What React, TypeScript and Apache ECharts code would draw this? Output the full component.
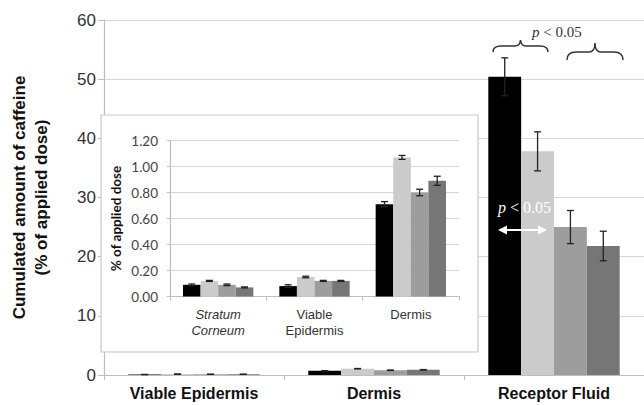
import React, { useEffect, useRef } from "react";
import * as echarts from "echarts";

const mainCategories = ["Viable Epidermis", "Dermis", "Receptor Fluid"];
const insetCategories = ["{it|Stratum}\n{it|Corneum}", "Viable\nEpidermis", "Dermis"];
const seriesNames = ["Formulation 1", "Formulation 2", "Formulation 3", "Formulation 4"];
const seriesColors = ["#000000", "#cbcbcb", "#9d9d9d", "#767676"];

// main chart values (% of applied dose) per series, across mainCategories
const mainValues = [
  [0.08, 0.7, 50.4],
  [0.15, 1.07, 37.8],
  [0.12, 0.8, 25.0],
  [0.12, 0.88, 21.8],
];
const mainErrors = [
  [0.01, 0.03, 3.2],
  [0.01, 0.03, 3.3],
  [0.01, 0.03, 2.8],
  [0.01, 0.04, 2.5],
];
// inset values per series, across insetCategories
const insetValues = [
  [0.09, 0.08, 0.71],
  [0.12, 0.15, 1.07],
  [0.09, 0.12, 0.8],
  [0.07, 0.12, 0.89],
];
const insetErrors = [
  [0.006, 0.01, 0.02],
  [0.004, 0.006, 0.015],
  [0.006, 0.004, 0.025],
  [0.004, 0.004, 0.035],
];
const mainTicks = { min: 0, max: 60, interval: 10 };
const insetTicks = { min: 0, max: 1.2, interval: 0.2 };

const GAP = 0.27;

function errorRenderer(capHalf: number) {
  return (params: any, api: any) => {
    const cat = api.value(0);
    const v = api.value(1);
    const e = api.value(2);
    const s = api.value(3);
    const bandW = api.size([1, 0])[0];
    const barW = (bandW * (1 - GAP)) / 4;
    const cx = api.coord([cat, v])[0] + (s - 1.5) * barW;
    const top = api.coord([cat, v + e])[1];
    const bot = api.coord([cat, v - e])[1];
    const style = { stroke: "#222", lineWidth: 1.3 };
    return {
      type: "group",
      children: [
        { type: "line", shape: { x1: cx, y1: top, x2: cx, y2: bot }, style },
        { type: "line", shape: { x1: cx - capHalf, y1: top, x2: cx + capHalf, y2: top }, style },
        { type: "line", shape: { x1: cx - capHalf, y1: bot, x2: cx + capHalf, y2: bot }, style },
      ],
    };
  };
}

echarts.graphic.registerShape(
  "brace1",
  echarts.graphic.extendPath(
    "M0,12 Q0,6 8,6 L22,6 Q27,6 27.5,0 Q28,6 33,6 L47,6 Q55,6 55,12",
    {}
  )
);
echarts.graphic.registerShape(
  "brace2",
  echarts.graphic.extendPath(
    "M0,17 Q0,9 9,9 L22,9 Q28,9 28,0 Q28,9 34,9 L47,9 Q56,9 56,17",
    {}
  )
);

export default function App() {
  const ref = useRef<HTMLDivElement>(null);
  useEffect(() => {
    if (!ref.current) return;
    const chart = echarts.init(ref.current, undefined, { renderer: "svg" });
    const series: any[] = [];
    seriesNames.forEach((name, i) => {
      series.push({
        type: "bar",
        name,
        xAxisIndex: 0,
        yAxisIndex: 0,
        data: mainValues[i],
        barGap: "0%",
        barCategoryGap: "27%",
        itemStyle: { color: seriesColors[i] },
        z: 2,
      });
    });
    seriesNames.forEach((name, i) => {
      series.push({
        type: "bar",
        name: name + " (inset)",
        xAxisIndex: 1,
        yAxisIndex: 1,
        data: insetValues[i],
        barGap: "0%",
        barCategoryGap: "27%",
        itemStyle: { color: seriesColors[i] },
        z: 4,
      });
    });
    const mainErr: any[] = [];
    const insetErr: any[] = [];
    seriesNames.forEach((_, s) => {
      mainCategories.forEach((_, c) => mainErr.push([c, mainValues[s][c], mainErrors[s][c], s]));
      insetCategories.forEach((_, c) => insetErr.push([c, insetValues[s][c], insetErrors[s][c], s]));
    });
    series.push({
      type: "custom",
      xAxisIndex: 0,
      yAxisIndex: 0,
      data: mainErr,
      encode: { x: 0, y: 1 },
      renderItem: errorRenderer(3.5),
      z: 5,
    });
    series.push({
      type: "custom",
      xAxisIndex: 1,
      yAxisIndex: 1,
      data: insetErr,
      encode: { x: 0, y: 1 },
      renderItem: errorRenderer(3.5),
      z: 6,
    });

    const option: any = {
      animation: false,
      textStyle: { fontFamily: "Liberation Sans" },
      grid: [
        { left: 95, top: 20, right: -6, bottom: 30 },
        { left: 170, top: 140.5, right: 185, bottom: 108.5 },
      ],
      xAxis: [
        {
          type: "category",
          gridIndex: 0,
          data: mainCategories,
          axisLine: { lineStyle: { color: "#bdbdbd", width: 1.2 } },
          axisTick: { show: true, length: 5, lineStyle: { color: "#bdbdbd" } },
          axisLabel: { color: "#111", fontSize: 16, fontWeight: "bold", margin: 10 },
          z: 0,
        },
        {
          type: "category",
          gridIndex: 1,
          data: insetCategories,
          axisLine: { lineStyle: { color: "#bdbdbd", width: 1.2 } },
          axisTick: { show: true, length: 4, lineStyle: { color: "#bdbdbd" } },
          axisLabel: {
            color: "#333",
            fontSize: 13,
            margin: 10,
            lineHeight: 16,
            rich: { it: { fontStyle: "italic", fontSize: 13, color: "#333", lineHeight: 16 } },
          },
          z: 3,
        },
      ],
      yAxis: [
        {
          type: "value",
          gridIndex: 0,
          ...mainTicks,
          name: "Cumulated amount of caffeine\n(% of applied dose)",
          nameLocation: "middle",
          nameGap: 52,
          nameTextStyle: { fontSize: 17, fontWeight: "bold", color: "#111", lineHeight: 22 },
          axisLine: { show: true, lineStyle: { color: "#bdbdbd", width: 1.2 } },
          axisTick: { show: true, length: 6, lineStyle: { color: "#bdbdbd" } },
          axisLabel: { color: "#333", fontSize: 17, margin: 8 },
          splitLine: { lineStyle: { color: "#d6d6d6", width: 1.2 } },
          z: 0,
        },
        {
          type: "value",
          gridIndex: 1,
          ...insetTicks,
          name: "% of applied dose",
          nameLocation: "middle",
          nameGap: 47,
          nameTextStyle: { fontSize: 13.5, fontWeight: "bold", color: "#111", fontFamily: "Lato" },
          axisLine: { show: true, lineStyle: { color: "#bdbdbd", width: 1.2 } },
          axisTick: { show: true, length: 3, lineStyle: { color: "#bdbdbd" } },
          axisLabel: {
            color: "#444",
            fontSize: 13.5,
            fontFamily: "Lato",
            margin: 12,
            formatter: (v: number) => v.toFixed(2),
          },
          splitLine: { lineStyle: { color: "#d6d6d6", width: 1.2 } },
          z: 3,
        },
      ],
      graphic: [
        {
          type: "rect",
          z: 1,
          shape: { x: 101, y: 115, width: 377, height: 237 },
          style: { fill: "#ffffff", stroke: "#c8c8c8", lineWidth: 1.2 },
        },
        {
          type: "brace1",
          z: 10,
          x: 493,
          y: 40,
          style: { fill: "none", stroke: "#333", lineWidth: 1.5 },
        },
        {
          type: "brace2",
          z: 10,
          x: 567,
          y: 43,
          style: { fill: "none", stroke: "#333", lineWidth: 1.5 },
        },
        {
          type: "text",
          z: 10,
          x: 532,
          y: 24,
          style: {
            text: "{i|p} < 0.05",
            font: "15px 'Liberation Serif'",
            fill: "#333",
            rich: { i: { fontStyle: "italic", fontSize: 15, fontFamily: "Liberation Serif", fill: "#333" } },
          },
        },
        {
          type: "text",
          z: 10,
          x: 498,
          y: 199,
          style: {
            text: "{i|p} < 0.05",
            font: "16px 'Liberation Serif'",
            fill: "#ffffff",
            rich: { i: { fontStyle: "italic", fontSize: 16, fontFamily: "Liberation Serif", fill: "#ffffff" } },
          },
        },
        {
          type: "line",
          z: 10,
          shape: { x1: 504, y1: 230, x2: 541, y2: 230 },
          style: { stroke: "#ffffff", lineWidth: 2 },
        },
        {
          type: "polygon",
          z: 10,
          shape: { points: [[498, 230], [507, 225.5], [507, 234.5]] },
          style: { fill: "#ffffff" },
        },
        {
          type: "polygon",
          z: 10,
          shape: { points: [[547, 230], [538, 225.5], [538, 234.5]] },
          style: { fill: "#ffffff" },
        },
      ],
      series,
    };
    chart.setOption(option);
    return () => chart.dispose();
  }, []);
  return (
    <div
      ref={ref}
      style={{ position: "fixed", left: 0, top: 0, width: 644, height: 405, background: "#fff" }}
    />
  );
}
